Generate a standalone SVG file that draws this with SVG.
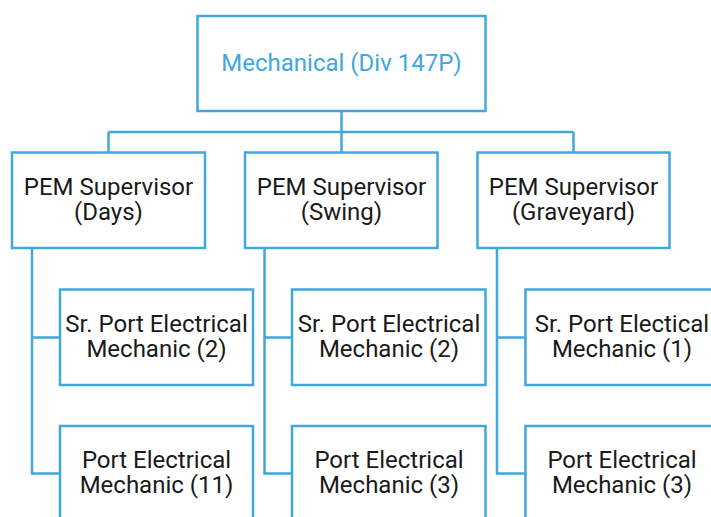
<svg xmlns="http://www.w3.org/2000/svg" width="711" height="517" viewBox="0 0 711 517">
<style>
.box{fill:#fff;stroke:#42a8dc;stroke-width:2.5}
.ln{fill:none;stroke:#42a8dc;stroke-width:2.5}
text{font-family:Roboto,"Liberation Sans",sans-serif;font-size:24px;text-anchor:middle;fill:#1a1a1a}
.top{fill:#42a8dc}
</style>
<rect width="711" height="517" fill="#fff"/>
<g id="connectors">
<path class="ln" d="M341.5 111V132M108.5 132H573.5M108.5 132V152M341.5 132V152M573.5 132V152"/>
<path class="ln" d="M32 248V473.5H60M32 337.5H60"/>
<path class="ln" d="M264.5 248V473.5H292M264.5 337.5H292"/>
<path class="ln" d="M497 248V473.5H525M497 337.5H525"/>
</g>
<g id="n0"><rect class="box" x="197.5" y="16" width="288" height="95"/><text class="top" x="341.5" y="71">Mechanical (Div 147P)</text></g>
<g id="n1"><rect class="box" x="12" y="152.5" width="193" height="95.5"/><text x="108.5" y="195">PEM Supervisor</text><text x="108.5" y="220">(Days)</text></g>
<g id="n2"><rect class="box" x="245" y="152.5" width="192.5" height="95.5"/><text x="341.5" y="195">PEM Supervisor</text><text x="341.5" y="220">(Swing)</text></g>
<g id="n3"><rect class="box" x="477.5" y="152.5" width="192" height="95.5"/><text x="573.5" y="195">PEM Supervisor</text><text x="573.5" y="220">(Graveyard)</text></g>
<g id="n4"><rect class="box" x="60" y="289.5" width="193" height="95.5"/><text x="156.5" y="332">Sr. Port Electrical</text><text x="156.5" y="357">Mechanic (2)</text></g>
<g id="n5"><rect class="box" x="292" y="289.5" width="193.5" height="95.5"/><text x="389" y="332">Sr. Port Electrical</text><text x="389" y="357">Mechanic (2)</text></g>
<g id="n6"><rect class="box" x="525.5" y="289.5" width="193" height="95.5"/><text x="622" y="332">Sr. Port Electical</text><text x="622" y="357">Mechanic (1)</text></g>
<g id="n7"><rect class="box" x="60" y="426" width="193" height="120"/><text x="156.5" y="468">Port Electrical</text><text x="156.5" y="493">Mechanic (11)</text></g>
<g id="n8"><rect class="box" x="292" y="426" width="193.5" height="120"/><text x="389" y="468">Port Electrical</text><text x="389" y="493">Mechanic (3)</text></g>
<g id="n9"><rect class="box" x="525.5" y="426" width="193" height="120"/><text x="622" y="468">Port Electrical</text><text x="622" y="493">Mechanic (3)</text></g>
</svg>
